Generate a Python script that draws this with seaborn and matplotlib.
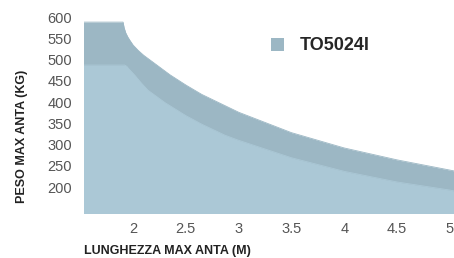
import matplotlib
matplotlib.use("Agg")
import matplotlib.pyplot as plt
from matplotlib import font_manager
import pandas as pd
import seaborn as sns

# portata massima anta
upper_x = [1.50, 1.905, 1.915, 1.93, 1.95, 1.97, 2.00, 2.05, 2.10, 2.35, 2.50, 2.65,
           3.00, 3.50, 4.00, 4.50, 5.00, 5.06]
upper_y = [588, 588, 575, 563, 553, 545, 534, 521, 510, 464, 440, 418,
           376, 328, 292, 264, 240, 237]
lower_x = [1.50, 1.92, 1.94, 1.96, 1.99, 2.02, 2.07, 2.14, 2.30, 2.50, 2.65, 2.87,
           3.00, 3.50, 4.00, 4.50, 5.00, 5.06]
lower_y = [487, 487, 484, 478, 470, 462, 447, 428, 399, 368, 348, 322,
           310, 269, 237, 212, 193, 190]

x_ticks = [2, 2.5, 3, 3.5, 4, 4.5, 5]
x_labels = ["2", "2.5", "3", "3.5", "4", "4.5", "5"]
y_ticks = [200, 250, 300, 350, 400, 450, 500, 550, 600]
series_name = "TO5024I"

dark = "#9cb7c4"
light = "#abc8d6"

sns.set_theme(style="white")
plt.rcParams["font.family"] = ["Liberation Sans", "DejaVu Sans"]

installed = {f.name for f in font_manager.fontManager.ttflist}
if "Liberation Sans Narrow" in installed:
    label_font = ["Liberation Sans Narrow", "Liberation Sans"]
    label_size = 11
else:
    label_font = ["Liberation Sans", "DejaVu Sans"]
    label_size = 9

fig = plt.figure(figsize=(4.54, 2.58), dpi=100)
ax = fig.add_axes([84 / 454, 1 - 213 / 258, 1 - 84 / 454, (213 - 17) / 258])

up = pd.DataFrame({"lunghezza": upper_x, "peso": upper_y})
low = pd.DataFrame({"lunghezza": lower_x, "peso": lower_y})

sns.lineplot(data=up, x="lunghezza", y="peso", estimator=None, color=dark, lw=0.6, ax=ax)
area = ax.fill_between(up["lunghezza"], 0, up["peso"], color=dark, lw=0, label=series_name)
sns.lineplot(data=low, x="lunghezza", y="peso", estimator=None, color=light, lw=0.6, ax=ax)
ax.fill_between(low["lunghezza"], 0, low["peso"], color=light, lw=0)

ax.set_xlim(1.535, 5.04)
ax.set_ylim(139, 600)
ax.set_xticks(x_ticks)
ax.set_xticklabels(x_labels)
ax.set_yticks(y_ticks)
ax.set_xlabel("")
ax.set_ylabel("")
ax.tick_params(axis="both", length=0, labelsize=10.5, labelcolor="#555555")
ax.tick_params(axis="y", pad=8.5)
ax.tick_params(axis="x", pad=6.5)
sns.despine(ax=ax, left=True, bottom=True)

fig.text(22 / 454, 1 - 136 / 258, "PESO MAX ANTA (KG)", rotation=90,
         ha="center", va="center", fontsize=label_size, fontweight="bold",
         family=label_font, color="#222222")
fig.text(84 / 454, 1 - 251 / 258, "LUNGHEZZA MAX ANTA (M)",
         ha="left", va="center", fontsize=label_size, fontweight="bold",
         family=label_font, color="#222222")

ax.legend(handles=[area], loc="center left", bbox_to_anchor=(271 / 454, 1 - 46 / 258),
          bbox_transform=fig.transFigure, frameon=False, borderpad=0, borderaxespad=0,
          handlelength=0.72, handleheight=0.72, handletextpad=0.85,
          prop={"weight": "bold", "size": 13})

fig.savefig("out.png", dpi=100)
